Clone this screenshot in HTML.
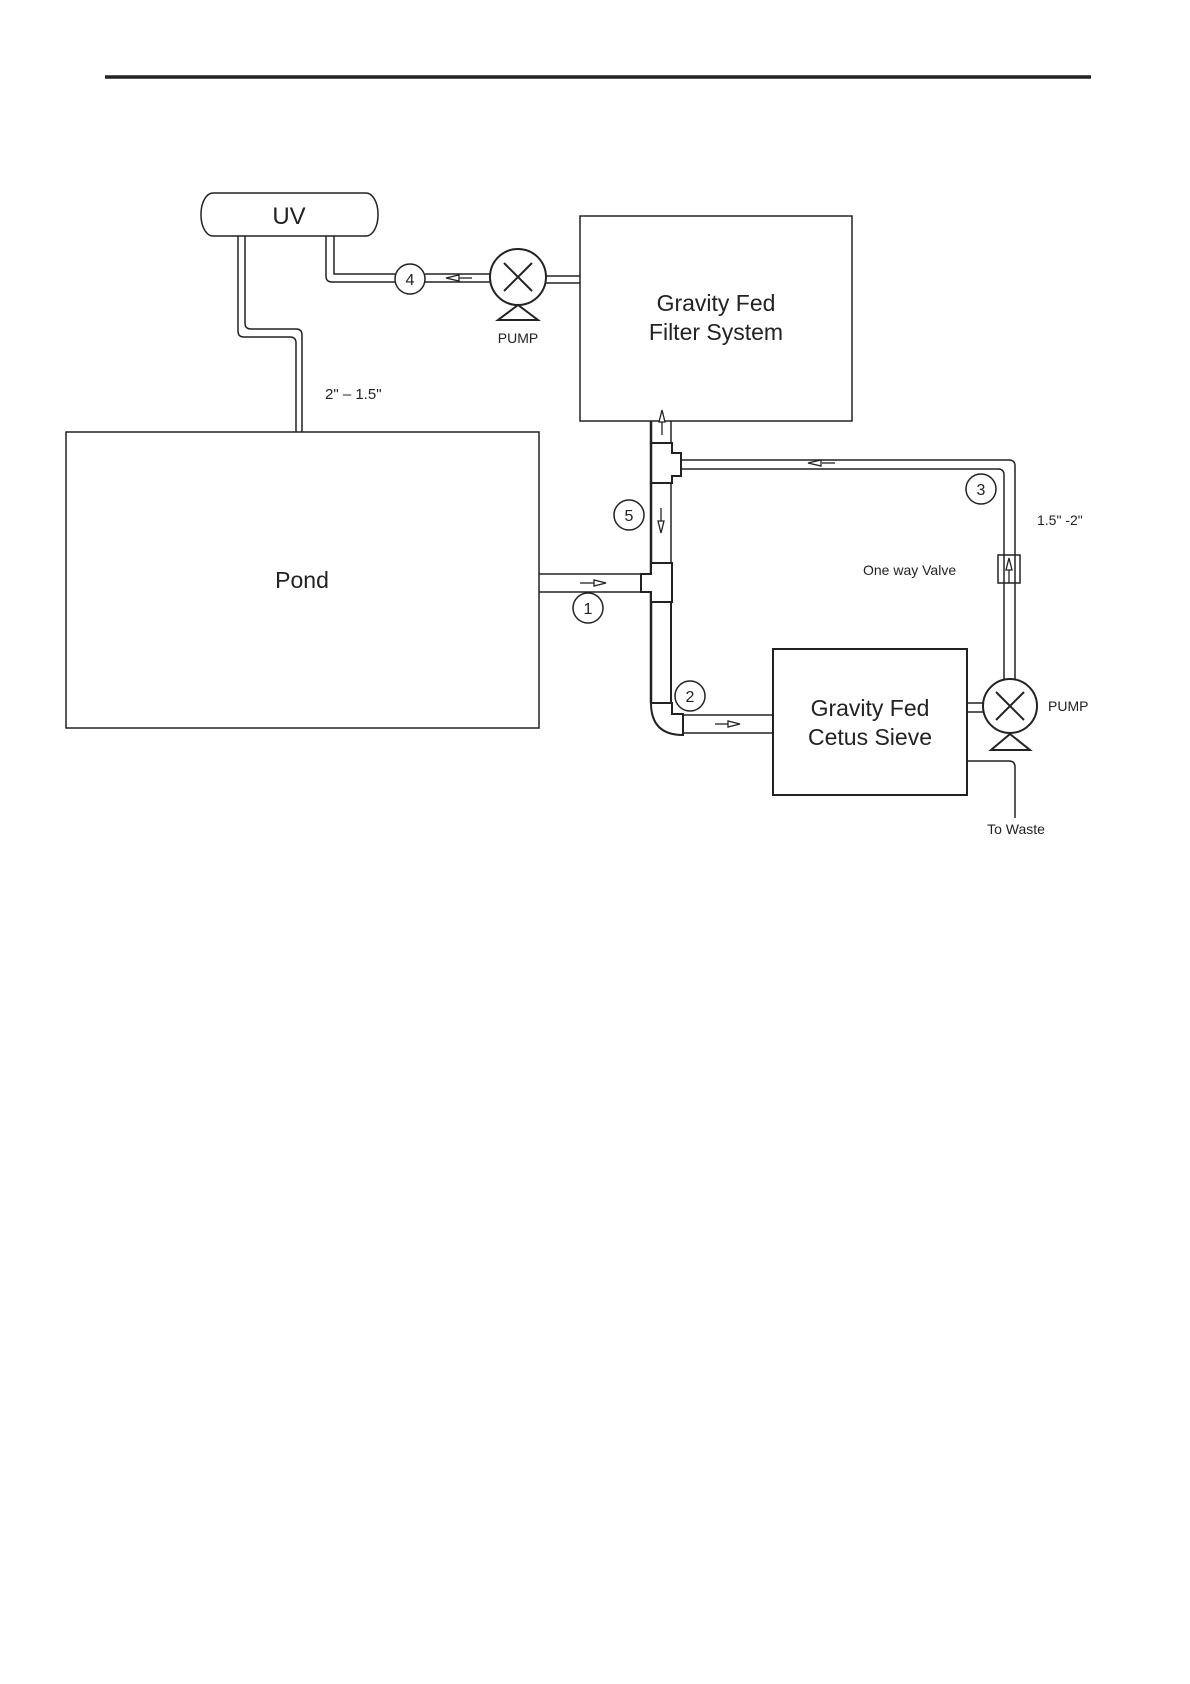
<!DOCTYPE html>
<html><head><meta charset="utf-8"><style>
html,body{margin:0;padding:0;background:#fff;}
svg{display:block;}
text{font-family:"Liberation Sans",Arial,sans-serif;fill:#222;}
</style></head><body>
<svg width="1190" height="1684" viewBox="0 0 1190 1684" xmlns="http://www.w3.org/2000/svg">
<g stroke="#222" fill="none" stroke-width="1.5">
<line x1="105" y1="77" x2="1091" y2="77" stroke-width="3.5"/>
<!-- UV -->
<rect x="201" y="193" width="177" height="43" rx="12" ry="21" fill="#fff"/>
<!-- UV to pond pipe -->
<path d="M238 236 V331 Q238 337 244 337 H290 Q296 337 296 343 V432"/>
<path d="M245 236 V323 Q245 329 251 329 H296 Q302 329 302 335 V432"/>
<!-- pipe 4 -->
<path d="M326 236 V276 Q326 282 332 282 H395"/>
<path d="M334 236 V274 H395"/>
<line x1="425" y1="274" x2="490" y2="274"/>
<line x1="425" y1="282" x2="491" y2="282"/>
<circle cx="410" cy="279" r="15" fill="#fff"/>
<!-- pump 1 -->
<line x1="546" y1="276" x2="580" y2="276"/>
<line x1="546" y1="283" x2="580" y2="283"/>
<circle cx="518" cy="277" r="28" fill="#fff" stroke-width="2"/>
<line x1="504" y1="263" x2="532" y2="291" stroke-width="2"/>
<line x1="532" y1="263" x2="504" y2="291" stroke-width="2"/>
<path d="M518 305 L498 320 H538 Z" stroke-width="2"/>
<!-- filter -->
<rect x="580" y="216" width="272" height="205"/>
<!-- pond -->
<rect x="66" y="432" width="473" height="296"/>
<!-- pipe 1 -->
<line x1="539" y1="574" x2="641" y2="574"/>
<line x1="539" y1="592" x2="641" y2="592"/>
<circle cx="588" cy="608" r="15"/>
<!-- vertical pipe -->
<line x1="651" y1="421" x2="651" y2="703" stroke-width="2.5"/>
<line x1="671" y1="421" x2="671" y2="443"/>
<line x1="671" y1="483" x2="671" y2="563"/>
<line x1="671" y1="602" x2="671" y2="703" stroke-width="2"/>
<!-- upper tee -->
<path d="M651 443 H672 V453 H681 V476 H672 V483 H651" stroke-width="2"/>
<!-- lower tee -->
<path d="M651 563 H672 V602 H651 V592 H641 V574 H651 Z" stroke-width="2" fill="#fff"/>
<!-- elbow -->
<path d="M651 703 H672 V714 H683 V735 Q651 735 651 703 Z" stroke-width="2" fill="#fff"/>
<!-- pipe 2 -->
<line x1="683" y1="715" x2="773" y2="715"/>
<line x1="683" y1="733" x2="773" y2="733"/>
<circle cx="690" cy="696" r="15"/>
<!-- sieve -->
<rect x="773" y="649" width="194" height="146" stroke-width="2"/>
<!-- pipe 3 -->
<path d="M681 460 H1009 Q1015 460 1015 466 V679"/>
<path d="M681 469 H998 Q1004 469 1004 475 V679"/>
<circle cx="981" cy="489" r="15" fill="#fff"/>
<circle cx="629" cy="515" r="15"/>
<rect x="998" y="555" width="22" height="28" fill="#fff"/>
<line x1="1004" y1="555" x2="1004" y2="583"/>
<line x1="1015" y1="555" x2="1015" y2="583"/>
<!-- pump 2 -->
<line x1="967" y1="703" x2="983" y2="703"/>
<line x1="967" y1="712" x2="983" y2="712"/>
<circle cx="1010" cy="706" r="27" fill="#fff" stroke-width="2"/>
<line x1="996" y1="692" x2="1024" y2="720" stroke-width="2"/>
<line x1="1024" y1="692" x2="996" y2="720" stroke-width="2"/>
<path d="M1010 734 L991 750 H1030 Z" stroke-width="2"/>
<!-- waste -->
<path d="M967 761 H1009 Q1015 761 1015 767 V818"/>
</g>
<!-- arrows -->
<g stroke="#222" fill="#fff" stroke-width="1.3">
<line x1="459" y1="278" x2="472" y2="278"/><path d="M446 278 L459 275 V281 Z"/>
<line x1="580" y1="583" x2="594" y2="583"/><path d="M606 583 L594 580 V586 Z"/>
<line x1="715" y1="724" x2="728" y2="724"/><path d="M740 724 L728 721 V727 Z"/>
<line x1="822" y1="463" x2="835" y2="463"/><path d="M808 463 L821 460 V466 Z"/>
<line x1="662" y1="422" x2="662" y2="435"/><path d="M662 410 L659 422 H665 Z"/>
<line x1="661" y1="508" x2="661" y2="521"/><path d="M661 533 L658 521 H664 Z"/>
<line x1="1009" y1="570" x2="1009" y2="583"/><path d="M1009 558 L1006 570 H1012 Z"/>
</g>
<!-- text -->
<text x="289" y="224" font-size="24" text-anchor="middle">UV</text>
<text x="410" y="285" font-size="16" text-anchor="middle">4</text>
<text x="518" y="343" font-size="14" text-anchor="middle">PUMP</text>
<text x="716" y="311" font-size="23" text-anchor="middle">Gravity Fed</text>
<text x="716" y="340" font-size="23" text-anchor="middle">Filter System</text>
<text x="325" y="399" font-size="15">2" – 1.5"</text>
<text x="302" y="588" font-size="23" text-anchor="middle">Pond</text>
<text x="588" y="614" font-size="16" text-anchor="middle">1</text>
<text x="690" y="702" font-size="16" text-anchor="middle">2</text>
<text x="981" y="495" font-size="16" text-anchor="middle">3</text>
<text x="629" y="521" font-size="16" text-anchor="middle">5</text>
<text x="870" y="716" font-size="23" text-anchor="middle">Gravity Fed</text>
<text x="870" y="745" font-size="23" text-anchor="middle">Cetus Sieve</text>
<text x="1037" y="525" font-size="14">1.5" -2"</text>
<text x="863" y="575" font-size="14">One way Valve</text>
<text x="1048" y="711" font-size="14">PUMP</text>
<text x="1016" y="834" font-size="14" text-anchor="middle">To Waste</text>
</svg>
</body></html>
